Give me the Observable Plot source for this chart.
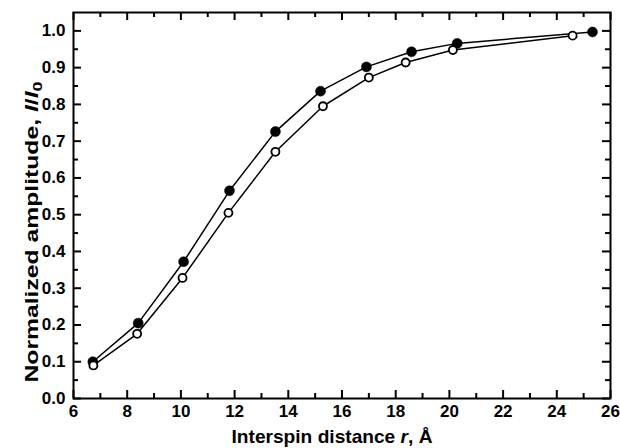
<!DOCTYPE html>
<html>
<head>
<meta charset="utf-8">
<script src="https://cdn.jsdelivr.net/npm/d3@7"></script>
<script src="https://cdn.jsdelivr.net/npm/@observablehq/plot@0.6"></script>
<style>
  html, body { margin: 0; padding: 0; background: #fff; }
  #chart { width: 620px; height: 448px; }
</style>
</head>
<body>
<div id="chart"></div>
<script>
// Filled circles series
const filledR = [6.72, 8.41, 10.1, 11.81, 13.52, 15.2, 16.91, 18.59, 20.29, 25.33];
const filledI = [0.100, 0.205, 0.372, 0.565, 0.726, 0.836, 0.902, 0.943, 0.966, 0.997];
// Open circles series
const openR = [6.74, 8.37, 10.06, 11.77, 13.52, 15.29, 17.0, 18.37, 20.13, 24.59];
const openI = [0.090, 0.176, 0.328, 0.505, 0.671, 0.795, 0.873, 0.914, 0.948, 0.987];

// Tick values
const xMajor = [6, 8, 10, 12, 14, 16, 18, 20, 22, 24, 26];
const xMinor = [7, 9, 11, 13, 15, 17, 19, 21, 23, 25];
const yMajor = [0.0, 0.1, 0.2, 0.3, 0.4, 0.5, 0.6, 0.7, 0.8, 0.9, 1.0];
const yMinor = [0.05, 0.15, 0.25, 0.35, 0.45, 0.55, 0.65, 0.75, 0.85, 0.95];

const xTitle = ["Interspin distance ", "r", ", Å"];
const yTitle = ["Normalized amplitude, ", "I", "/", "I", "0"];

const filled = filledR.map((r, i) => ({r, v: filledI[i]}));
const open = openR.map((r, i) => ({r, v: openI[i]}));

const W = 620, H = 448;
const mL = 73, mR = 10, mT = 12, mB = 50;
const fW = W - mL - mR, fH = H - mT - mB;

// inward tick marks as short rules (inset from the far side of the frame)
const tk = {stroke: "#000", strokeWidth: 2};
const ticksX = (vals, side, len) => Plot.ruleX(vals, {...tk, x: d => d, ...(side === "bottom" ? {insetTop: fH - len} : {insetBottom: fH - len})});
const ticksY = (vals, side, len) => Plot.ruleY(vals, {...tk, y: d => d, ...(side === "left" ? {insetRight: fW - len} : {insetLeft: fW - len})});

const font = "'Liberation Sans', Arial, Helvetica, sans-serif";

const svg = Plot.plot({
  width: W,
  height: H,
  marginLeft: mL,
  marginRight: mR,
  marginTop: mT,
  marginBottom: mB,
  style: {fontFamily: font, fontWeight: "bold", color: "#000", background: "#fff"},
  x: {domain: [6, 26]},
  y: {domain: [0, 1.05]},
  marks: [
    ticksX(xMajor, "bottom", 8), ticksX(xMinor, "bottom", 5),
    ticksX(xMajor, "top", 8), ticksX(xMinor, "top", 5),
    ticksY(yMajor, "left", 8), ticksY(yMinor, "left", 5),
    ticksY(yMajor, "right", 8), ticksY(yMinor, "right", 5),
    Plot.line(filled, {x: "r", y: "v", stroke: "#000", strokeWidth: 1.5}),
    Plot.line(open, {x: "r", y: "v", stroke: "#000", strokeWidth: 1.5}),
    Plot.dot(filled, {x: "r", y: "v", r: 5, fill: "#000", stroke: "#000", strokeWidth: 0.5}),
    Plot.dot(open, {x: "r", y: "v", r: 4, fill: "#fff", stroke: "#000", strokeWidth: 1.8}),
    Plot.axisX(xMajor, {anchor: "bottom", tickSize: 0, tickPadding: 6, fontSize: 17, fontWeight: "bold", fill: "#000", tickFormat: d => String(d), label: null}),
    Plot.axisY(yMajor, {anchor: "left", tickSize: 0, tickPadding: 8, fontSize: 17, fontWeight: "bold", fill: "#000", tickFormat: d3.format(".1f"), label: null}),
    Plot.frame({stroke: "#000", strokeWidth: 2})
  ]
});

// Axis titles with italic/subscript parts
const s = d3.select(svg);
const xt = s.append("text")
  .attr("x", 332)
  .attr("y", 443)
  .attr("text-anchor", "middle")
  .attr("textLength", 201).attr("lengthAdjust", "spacingAndGlyphs")
  .style("font-family", font)
  .style("font-size", "19px").style("font-weight", "bold").attr("fill", "#000");
xt.append("tspan").text(xTitle[0]);
xt.append("tspan").style("font-style", "italic").text(xTitle[1]);
xt.append("tspan").text(xTitle[2]);

const yt = s.append("text")
  .attr("transform", `translate(38,232) rotate(-90)`)
  .attr("text-anchor", "middle")
  .attr("textLength", 301).attr("lengthAdjust", "spacingAndGlyphs")
  .style("font-family", font)
  .style("font-size", "18px").style("font-weight", "bold").attr("fill", "#000");
yt.append("tspan").text(yTitle[0]);
yt.append("tspan").style("font-style", "italic").text(yTitle[1]);
yt.append("tspan").text(yTitle[2]);
yt.append("tspan").style("font-style", "italic").text(yTitle[3]);
yt.append("tspan").attr("dy", "0.3em").style("font-size", "13px").text(yTitle[4]);

document.getElementById("chart").appendChild(svg);
</script>
</body>
</html>
